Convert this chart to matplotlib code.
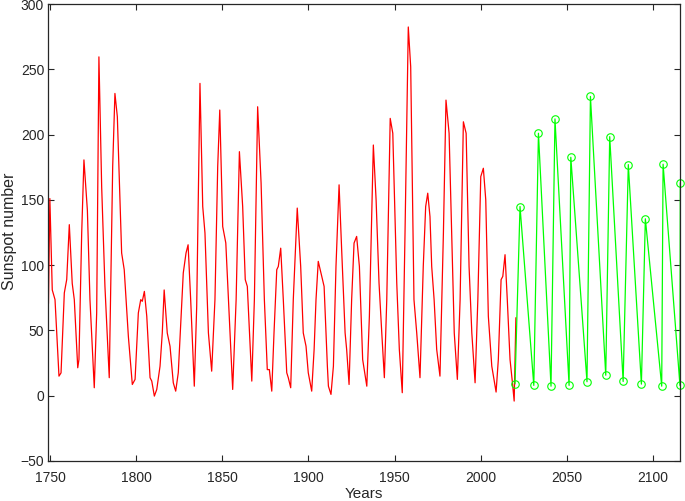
import matplotlib
matplotlib.use("Agg")
import matplotlib.pyplot as plt

plt.rcParams['font.family'] = ['Liberation Sans', 'DejaVu Sans']

obs_years = [1749.0, 1749.8, 1751.2, 1752.8, 1755.1, 1756.3, 1758.2, 1759.6, 1761.1, 1762.8,
             1764.0, 1766.0, 1766.7, 1768.3, 1769.6, 1771.6, 1773.1, 1775.6, 1777.0, 1778.3,
             1779.9, 1781.8, 1784.3, 1786.3, 1787.6, 1789.0, 1791.5, 1793.0, 1795.4, 1797.7,
             1799.3, 1801.2, 1802.6, 1803.5, 1804.7, 1806.1, 1808.0, 1809.0, 1810.5, 1811.9,
             1813.8, 1815.1, 1816.2, 1818.0, 1819.6, 1821.5, 1822.9, 1824.4, 1827.3, 1828.9,
             1830.1, 1831.6, 1833.7, 1835.1, 1837.0, 1838.6, 1839.9, 1841.9, 1843.8, 1845.7,
             1847.3, 1848.5, 1850.2, 1852.0, 1854.0, 1856.0, 1858.0, 1859.9, 1861.8, 1863.3,
             1864.5, 1867.1, 1868.6, 1870.5, 1872.5, 1874.4, 1876.1, 1877.3, 1878.7, 1880.0,
             1881.6, 1882.5, 1883.9, 1885.4, 1887.4, 1888.3, 1889.7, 1891.2, 1893.5, 1895.5,
             1897.0, 1898.6, 1899.9, 1901.9, 1903.3, 1904.4, 1905.7, 1907.7, 1909.1, 1911.0,
             1911.6, 1913.1, 1914.5, 1916.0, 1917.8, 1919.3, 1921.3, 1922.2, 1923.6, 1925.1,
             1926.5, 1928.0, 1929.6, 1931.5, 1933.9, 1935.4, 1937.7, 1939.3, 1941.0, 1942.6,
             1944.1, 1945.5, 1947.5, 1949.0, 1951.3, 1952.8, 1954.5, 1956.1, 1958.0, 1959.4,
             1961.3, 1962.9, 1964.8, 1966.7, 1968.1, 1969.3, 1970.6, 1971.6, 1973.0, 1974.5,
             1976.4, 1978.4, 1979.9, 1981.7, 1983.2, 1984.7, 1986.5, 1988.1, 1990.0, 1991.6,
             1993.3, 1994.9, 1996.8, 1998.4, 2000.1, 2001.6, 2003.0, 2004.5, 2006.5, 2009.0,
             2010.3, 2011.9, 2012.9, 2014.2, 2015.5, 2017.1, 2018.5, 2019.5, 2020.5]
obs_values = [71, 151, 81, 73.6, 15, 17.5, 78.7, 89, 131, 86,
              73.6, 21.4, 27.7, 124.6, 180.6, 142, 73.6, 6.1, 63.4, 259.5,
              160, 83.7, 13.8, 175.5, 231.5, 213.7, 109.3, 96.5, 45.5, 8.6,
              12.5, 63.4, 73.6, 72.3, 79.9, 60.8, 13.8, 11.2, -0.3, 4.8,
              22.6, 48, 81, 48, 37.9, 9.9, 3.5, 17.6, 94, 109.3,
              115.6, 73.6, 7.3, 68.5, 239.2, 144.9, 124.6, 48.1, 18.8, 73.6,
              175.5, 218.8, 129.6, 117, 60.8, 4.8, 73.6, 186.9, 144.9, 88.9,
              83.7, 11.2, 73.6, 221.3, 162.8, 73.6, 20, 20, 3.5, 48,
              96.5, 99, 113, 73.6, 17.6, 13.8, 6.1, 73.6, 143.7, 99,
              48.1, 37.9, 17.6, 3.5, 35.4, 73.6, 102.9, 91.4, 83.7, 22.6,
              7.3, 1, 22.6, 99, 161.5, 111.8, 48.1, 35.4, 8.6, 73.6,
              116.9, 122, 99, 27.7, 7.3, 60.8, 192, 150, 86.4, 48.1,
              13.8, 73.6, 212.4, 201, 86.4, 35.4, 2.3, 124.6, 282.4, 251.9,
              73.6, 48.1, 13.8, 99, 144.9, 155.1, 137.2, 99, 73.6, 35.4,
              15, 124.6, 226.4, 201, 124.6, 48.1, 12.5, 73.6, 209.8, 201,
              99, 48.1, 9.9, 73.6, 167.8, 174.2, 150, 60.8, 22.6, 2.8,
              27.7, 88.9, 91.4, 108, 73.6, 27.7, 9.9, -4.1, 59.6]

# Predicted minima / maxima (green)
pred_years = [2020.0, 2022.9, 2030.9, 2033.6, 2040.9, 2043.2, 2051.4, 2052.4, 2061.8, 2063.8,
              2072.7, 2075.0, 2082.8, 2085.8, 2093.4, 2095.7, 2105.2, 2106.0, 2115.8, 2116.0]
pred_values = [9.2, 144.9, 7.9, 201, 7.3, 212, 7.9, 182.6, 10.7, 229.2,
               15.7, 198.4, 10.9, 177, 8.9, 135.5, 7.3, 177.3, 7.9, 162.8]

xticks = [1750, 1800, 1850, 1900, 1950, 2000, 2050, 2100]
yticks = [-50, 0, 50, 100, 150, 200, 250, 300]

W, H = 685, 501
fig = plt.figure(figsize=(W / 100, H / 100), dpi=100)
ax = fig.add_axes([48.3 / W, 40 / H, 632 / W, 457 / H])

ax.plot(obs_years, obs_values, color='#ff0000', lw=0.9)
ax.plot(pred_years, pred_values, color='#00ff00', lw=0.9, marker='o',
        markersize=5.4, markerfacecolor='none', markeredgewidth=0.8, clip_on=False)

ax.set_xlim(1748.9, 2116.0)
ax.set_ylim(-50, 300)
ax.set_xticks(xticks)
ax.set_yticks(yticks)

axcol = '#262626'
for s in ax.spines.values():
    s.set_color(axcol)
    s.set_linewidth(0.9)
ax.tick_params(axis='both', direction='in', length=4.5, width=0.8, color=axcol,
               labelcolor=axcol, labelsize=10, top=True, right=True)
ax.tick_params(axis='x', pad=7.5)
ax.tick_params(axis='y', pad=3)

fig.text(10 / W, 1 - 231 / H, 'Sunspot number', rotation=90, ha='center', va='center',
         fontsize=11.5, color=axcol)
fig.text(364 / W, 1 - 498 / H, 'Years', ha='center', va='baseline',
         fontsize=11, color=axcol)

fig.savefig('out.png', dpi=100)
